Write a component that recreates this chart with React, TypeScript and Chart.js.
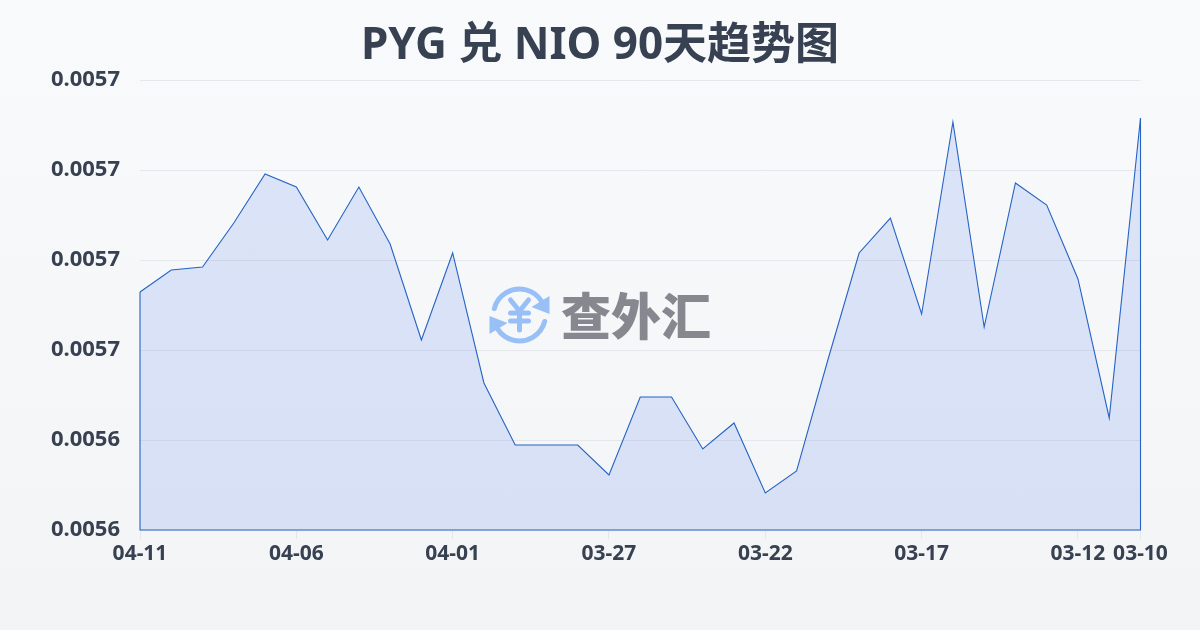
import React, { useEffect, useRef } from "react";
import { Chart, registerables } from "chart.js";

Chart.register(...registerables);

const dates = [
  "04-11", "04-10", "04-09", "04-08", "04-07", "04-06", "04-05", "04-04", "04-03", "04-02", "04-01",
  "03-31", "03-30", "03-29", "03-28", "03-27", "03-26", "03-25", "03-24", "03-23", "03-22",
  "03-21", "03-20", "03-19", "03-18", "03-17", "03-16", "03-15", "03-14", "03-13", "03-12", "03-11", "03-10",
];
const rates = [
  0.00567289, 0.00567778, 0.00567844, 0.00568822, 0.00569911, 0.00569622, 0.00568444, 0.00569622, 0.00568356,
  0.00566222, 0.00568156, 0.00565267, 0.00563889, 0.00563889, 0.00563889, 0.00563222, 0.00564956, 0.00564956,
  0.005638, 0.00564378, 0.00562822, 0.00563311, 0.00565778, 0.00568156, 0.00568933, 0.005668,
  0.00571067, 0.00566511, 0.00569711, 0.00569222, 0.00567578, 0.00564489, 0.00571156,
];
const shownDates = ["04-11", "04-06", "04-01", "03-27", "03-22", "03-17", "03-12", "03-10"];
const yMin = 0.00562;
const yMax = 0.00572;
const yStep = 0.00002;
const title = "PYG 兑 NIO 90天趋势图";
const watermark = "查外汇";

const FONT = '"Noto Sans", "Noto Sans CJK SC", sans-serif';
const INK = "#374151";
const LINE = "#2563c4";

const closeArea = {
  id: "closeArea",
  afterDatasetsDraw(chart: any) {
    const { ctx, chartArea: a } = chart;
    const pts = chart.getDatasetMeta(0).data;
    ctx.save();
    ctx.strokeStyle = LINE;
    ctx.lineWidth = 1.1;
    ctx.beginPath();
    ctx.moveTo(pts[0].x, pts[0].y);
    ctx.lineTo(a.left, a.bottom);
    ctx.lineTo(a.right, a.bottom);
    ctx.lineTo(pts[pts.length - 1].x, pts[pts.length - 1].y);
    ctx.stroke();
    ctx.restore();
  },
};

const logo = {
  id: "logo",
  afterDraw(chart: any) {
    const { ctx } = chart;
    const cx = 519.5;
    const cy = 315;
    const r = 26;
    const blue = "#99bff7";
    ctx.save();
    ctx.strokeStyle = blue;
    ctx.fillStyle = blue;
    ctx.lineWidth = 5;
    ctx.lineCap = "round";
    ctx.beginPath();
    ctx.arc(cx, cy, r, Math.PI * 1.08, Math.PI * 1.82);
    ctx.stroke();
    ctx.beginPath();
    ctx.arc(cx, cy, r, Math.PI * 0.08, Math.PI * 0.82);
    ctx.stroke();
    ctx.beginPath();
    ctx.moveTo(cx + 30, cy - 19);
    ctx.lineTo(cx + 30, cy - 1);
    ctx.lineTo(cx + 12, cy - 8);
    ctx.closePath();
    ctx.fill();
    ctx.beginPath();
    ctx.moveTo(cx - 30, cy + 19);
    ctx.lineTo(cx - 30, cy + 1);
    ctx.lineTo(cx - 12, cy + 8);
    ctx.closePath();
    ctx.fill();
    ctx.lineWidth = 5;
    ctx.beginPath();
    ctx.moveTo(cx - 9, cy - 15);
    ctx.lineTo(cx, cy - 4);
    ctx.lineTo(cx + 9, cy - 15);
    ctx.moveTo(cx, cy - 4);
    ctx.lineTo(cx, cy + 15);
    ctx.moveTo(cx - 9, cy - 2);
    ctx.lineTo(cx + 9, cy - 2);
    ctx.moveTo(cx - 9, cy + 6);
    ctx.lineTo(cx + 9, cy + 6);
    ctx.stroke();
    ctx.fillStyle = "#85888f";
    ctx.font = '900 50px "Noto Sans CJK SC", sans-serif';
    ctx.textAlign = "left";
    ctx.textBaseline = "middle";
    ctx.fillText(watermark, 561, 316);
    ctx.restore();
  },
};

export default function App() {
  const ref = useRef<HTMLCanvasElement>(null);
  useEffect(() => {
    const chart = new Chart(ref.current!, {
      type: "line",
      data: {
        labels: dates,
        datasets: [
          {
            data: rates,
            borderColor: LINE,
            borderWidth: 1.1,
            backgroundColor: "rgba(50, 100, 235, 0.14)",
            fill: "origin",
            pointRadius: 0,
            tension: 0,
          },
        ],
      },
      options: {
        animation: false,
        responsive: false,
        layout: { padding: 0 },
        plugins: {
          legend: { display: false },
          tooltip: { enabled: false },
          title: {
            display: true,
            text: title,
            color: INK,
            font: { family: FONT, size: 44, weight: "bold", lineHeight: 1.2 },
            padding: { top: 20, bottom: 7.2 },
          },
        },
        scales: {
          x: {
            border: { display: false },
            grid: { drawOnChartArea: false, color: "#e5e7eb", tickLength: 9 },
            afterBuildTicks(scale: any) {
              scale.ticks = scale.ticks.filter((t: any) => shownDates.includes(dates[t.value]));
            },
            afterFit(scale: any) {
              scale.height = 100;
            },
            ticks: {
              autoSkip: false,
              maxRotation: 0,
              minRotation: 0,
              color: INK,
              padding: 2,
              font: { family: FONT, size: 21, weight: "bold" },
            },
          },
          y: {
            min: yMin,
            max: yMax,
            border: { display: false },
            grid: { color: "#e5e7eb", drawTicks: false, lineWidth: 1 },
            afterFit(scale: any) {
              scale.width = 140;
            },
            ticks: {
              stepSize: yStep,
              color: INK,
              padding: 20,
              font: { family: FONT, size: 22, weight: "bold" },
              callback: (v: any) => Number(v).toFixed(4),
            },
          },
          rightGutter: {
            position: "right",
            min: yMin,
            max: yMax,
            border: { display: false },
            grid: { display: false },
            ticks: { display: false },
            afterFit(scale: any) {
              scale.width = 59.5;
            },
          },
        },
      },
      plugins: [closeArea, logo],
    } as any);
    return () => chart.destroy();
  }, []);
  return (
    <div
      style={{
        position: "absolute",
        left: 0,
        top: 0,
        width: 1200,
        height: 630,
        background: "linear-gradient(180deg, #f8fafc 0%, #f3f4f6 100%)",
      }}
    >
      <canvas ref={ref} width={1200} height={630} style={{ display: "block" }} />
    </div>
  );
}
